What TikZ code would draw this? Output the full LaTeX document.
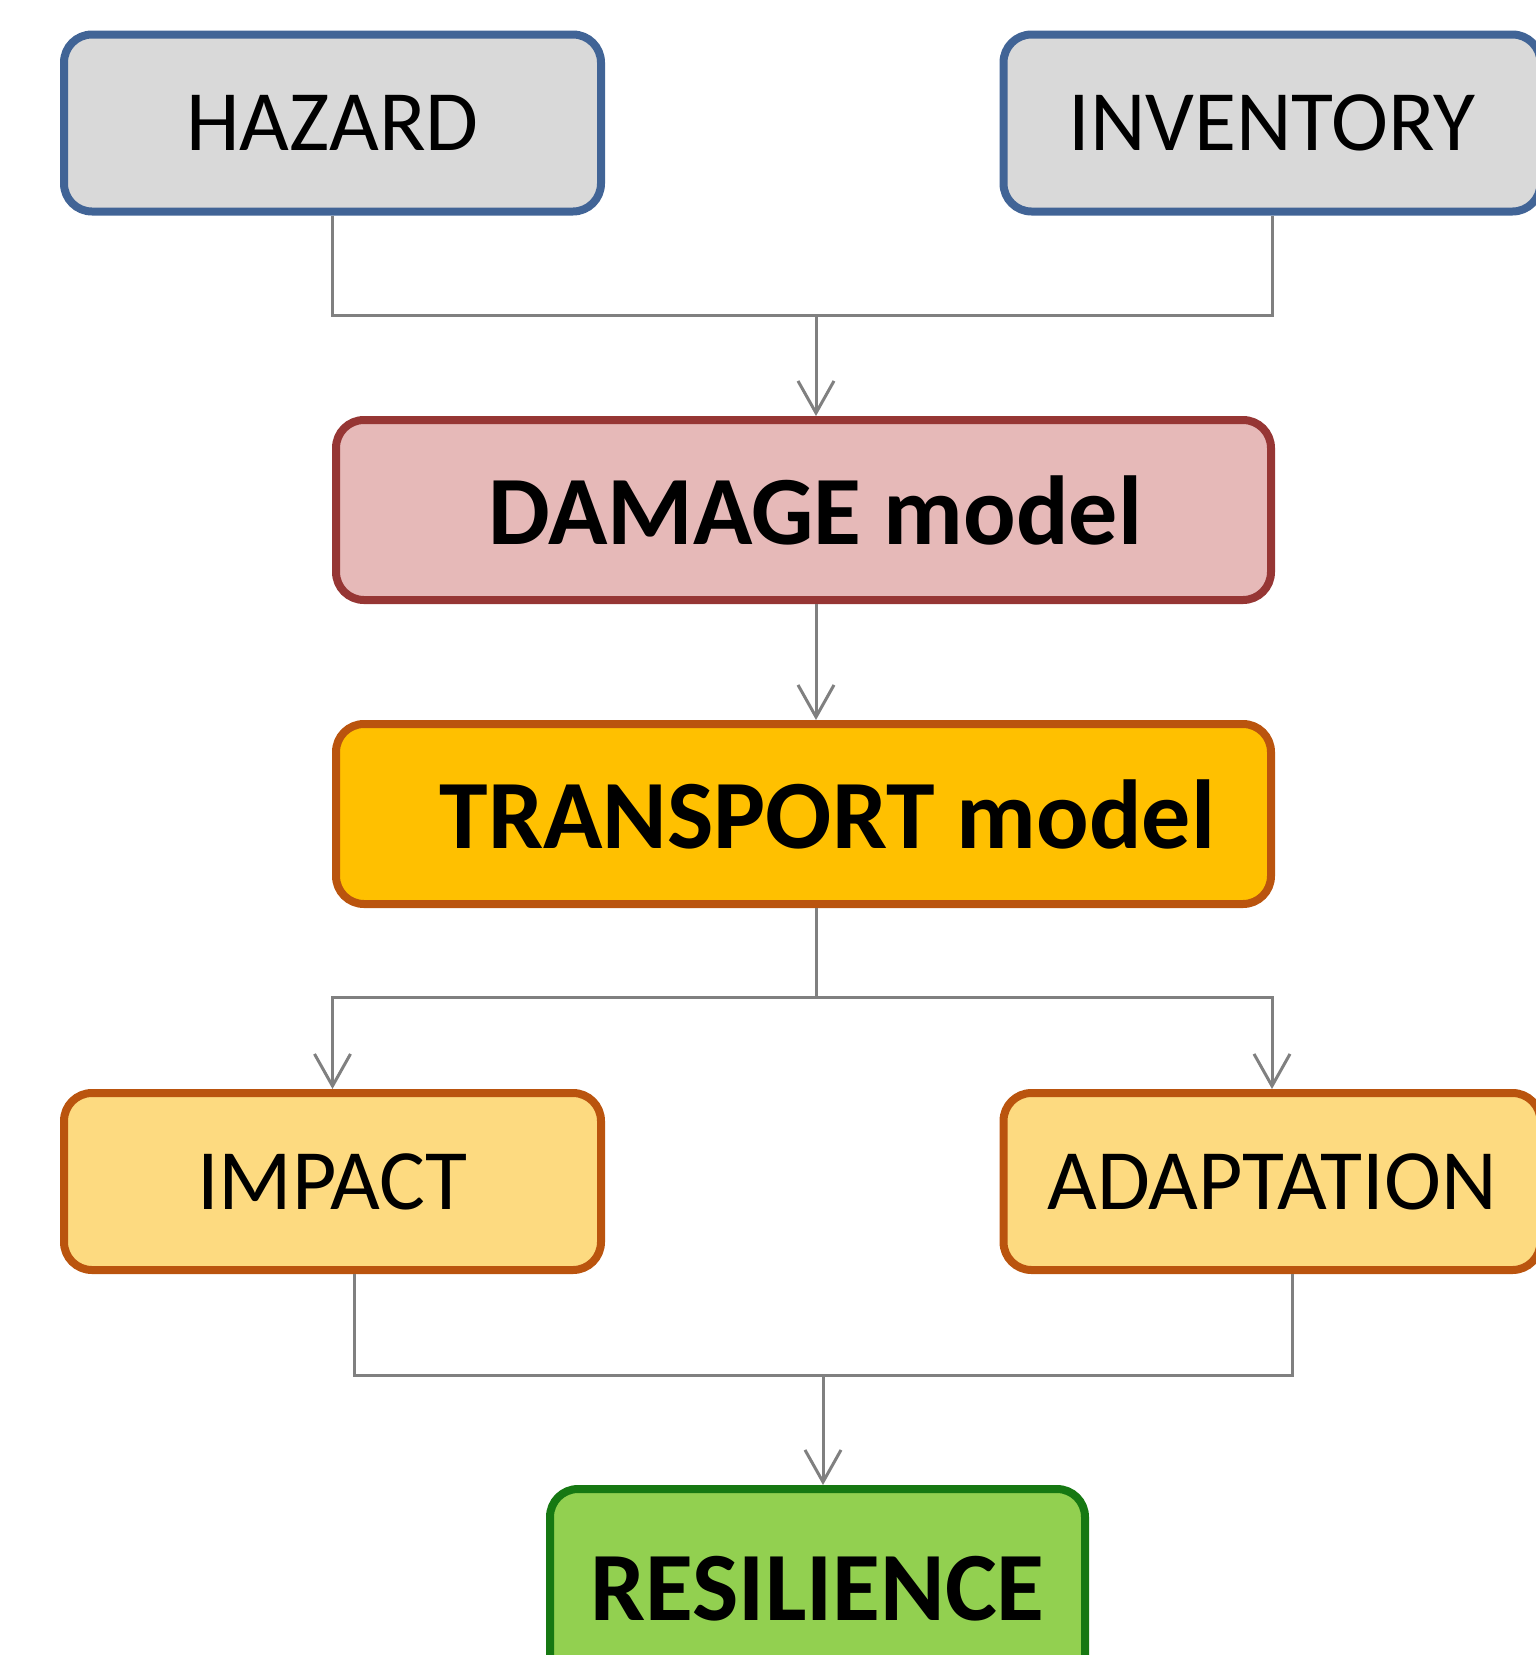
\documentclass[tikz,border=0pt]{standalone}
\usepackage{fontspec}
\setmainfont{Carlito}
\usetikzlibrary{arrows.meta}
\definecolor{bluebd}{RGB}{65,100,150}
\definecolor{grayfill}{RGB}{217,217,217}
\definecolor{dmgfill}{RGB}{230,185,184}
\definecolor{dmgbd}{RGB}{150,54,52}
\definecolor{trnfill}{RGB}{255,192,0}
\definecolor{orgbd}{RGB}{186,84,14}
\definecolor{impfill}{RGB}{253,218,128}
\definecolor{resfill}{RGB}{146,208,80}
\definecolor{resbd}{RGB}{22,120,18}
\definecolor{conncol}{RGB}{128,128,128}
\tikzset{
  box/.style={rectangle, rounded corners=14pt, line width=4pt, inner sep=0pt, align=center},
  smallbox/.style={box, minimum width=268.5pt, minimum height=88.5pt, font=\fontsize{43}{50}\selectfont},
  bigbox/.style={box, minimum width=467.5pt, minimum height=90pt, font=\fontsize{49}{56}\selectfont\bfseries},
  inbox/.style={smallbox, draw=bluebd, fill=grayfill},
  outbox/.style={smallbox, draw=orgbd, fill=impfill},
  conn/.style={draw=conncol, line width=1.5pt},
  arr/.style={conn, -{Straight Barb[length=16pt, width=18pt, line width=1.5pt]}}
}
\begin{document}
\begin{tikzpicture}[x=0.5pt, y=-0.5pt]
\useasboundingbox (0,0) rectangle (1536,1655);
\node[inbox] (haz) at (332.5,123) {HAZARD};
\node[inbox] (inv) at (1272,123) {INVENTORY};
\node[bigbox, draw=dmgbd, fill=dmgfill] (dmg) at (803.5,510) {\hspace*{12pt}DAMAGE model};
\node[bigbox, draw=orgbd, fill=trnfill] (trn) at (803.5,814) {\hspace*{24pt}TRANSPORT model};
\node[outbox] (imp) at (332.5,1181.5) {IMPACT};
\node[outbox] (ada) at (1272,1181.5) {ADAPTATION};
\node[box, draw=resbd, fill=resfill, minimum width=267.5pt, minimum height=100pt, font=\fontsize{49}{56}\selectfont\bfseries] (res) at (817.5,1589) {RESILIENCE};
\coordinate (m1) at (816,315);
\coordinate (m2) at (816,997);
\coordinate (m3) at (823,1375);
\draw[conn] (haz.south) |- (m1) -| (inv.south);
\draw[arr] (m1) -- (dmg.north -| m1);
\draw[arr] (dmg.south -| m1) -- (trn.north -| m1);
\draw[conn] (trn.south -| m2) -- (m2);
\draw[arr] (m2) -| (imp.north);
\draw[arr] (m2) -| (ada.north);
\draw[conn] ([xshift=11pt]imp.south) |- (m3) -| ([xshift=10pt]ada.south);
\draw[arr] (m3) -- (res.north -| m3);
\end{tikzpicture}
\end{document}
